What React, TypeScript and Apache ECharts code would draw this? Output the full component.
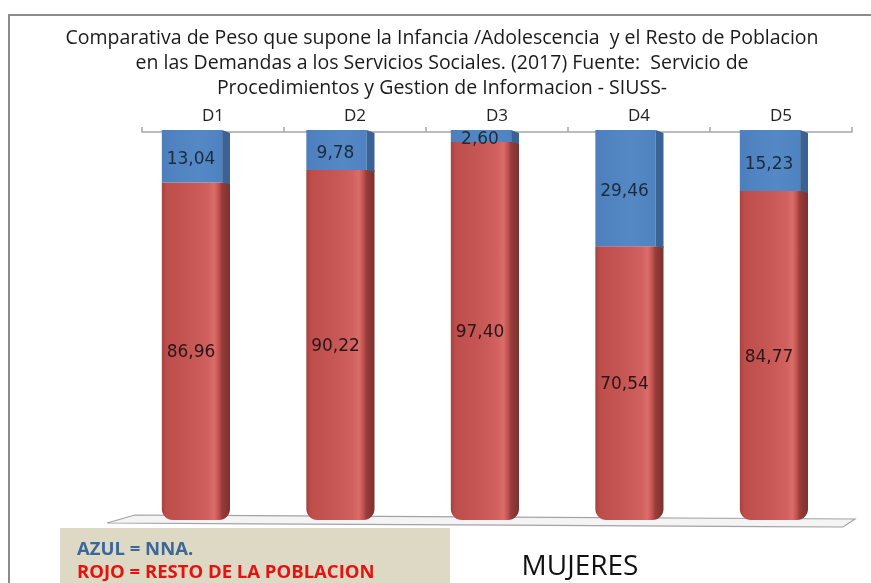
import React, { useEffect, useRef } from "react";
import * as echarts from "echarts";

const categories = ["D1", "D2", "D3", "D4", "D5"];
const nnaValues = [13.04, 9.78, 2.6, 29.46, 15.23];
const restoValues = [86.96, 90.22, 97.4, 70.54, 84.77];

const titleLines = [
  "Comparativa de Peso que supone la Infancia /Adolescencia  y el Resto de Poblacion",
  "en las Demandas a los Servicios Sociales. (2017) Fuente:  Servicio de",
  "Procedimientos y Gestion de Informacion - SIUSS-",
];
const legendLines = ["AZUL = NNA.", "ROJO = RESTO DE LA POBLACION"];
const footerText = "MUJERES";

const fmt = (v: number) => v.toFixed(2).replace(".", ",");

export default function App() {
  const ref = useRef<HTMLDivElement>(null);
  useEffect(() => {
    if (!ref.current) return;
    const chart = echarts.init(ref.current, null, { renderer: "svg" });

    const geom = (params: any, api: any) => {
      const cat = api.value(0);
      const start = api.value(1);
      const end = api.value(2);
      const p0 = api.coord([cat, start]);
      const p1 = api.coord([cat, end]);
      const band = api.size([1, 0])[0];
      const cs = params.coordSys;
      const vx = cs.x + cs.width * 1.78;
      const cx = p0[0] + (p0[0] - vx) * 0.0176;
      const w = band * 0.425;
      const d = band * 0.055;
      return { cx, x0: cx - w / 2, w, d, y0: p0[1], y1: p1[1], v: end - start };
    };

    const labelStyle = (text: string, fill: string) => ({
      text,
      fill,
      font: '17px "DejaVu Sans"',
      align: "center",
      verticalAlign: "middle",
      textAlign: "center",
      textVerticalAlign: "middle",
    });

    const renderRed = (params: any, api: any) => {
      const g = geom(params, api);
      const grad = new echarts.graphic.LinearGradient(0, 0, 1, 0, [
        { offset: 0, color: "#a6423f" },
        { offset: 0.07, color: "#bd4e4b" },
        { offset: 0.45, color: "#c75855" },
        { offset: 0.68, color: "#d0615e" },
        { offset: 0.77, color: "#da6d6a" },
        { offset: 0.84, color: "#c0504d" },
        { offset: 0.88, color: "#973d3a" },
        { offset: 1, color: "#7b302e" },
      ]);
      return {
        type: "group",
        children: [
          {
            type: "rect",
            shape: { x: g.x0, y: g.y0, width: g.w + g.d, height: g.y1 - g.y0, r: [0, 0, 11, 11] },
            style: { fill: grad },
          },
          {
            type: "text",
            x: g.cx - 1,
            y: (g.y0 + g.y1) / 2,
            style: labelStyle(fmt(g.v), "#2a1616"),
          },
        ],
      };
    };

    const renderBlue = (params: any, api: any) => {
      const g = geom(params, api);
      const top = g.y0 - 2;
      return {
        type: "group",
        children: [
          {
            type: "rect",
            shape: { x: g.x0, y: top, width: g.w, height: g.y1 - top },
            style: {
              fill: new echarts.graphic.LinearGradient(0, 0, 1, 0, [
                { offset: 0, color: "#4d7fbd" },
                { offset: 0.6, color: "#5589c6" },
                { offset: 1, color: "#4f82c0" },
              ]),
            },
          },
          {
            type: "polygon",
            shape: {
              points: [
                [g.x0 + g.w, top],
                [g.x0 + g.w + g.d, top + 3],
                [g.x0 + g.w + g.d, g.y1 + 2],
                [g.x0 + g.w, g.y1],
              ],
            },
            style: { fill: "#3a6293" },
          },
          {
            type: "text",
            x: g.cx - 1,
            y: (g.y0 + g.y1) / 2 + 1,
            style: labelStyle(fmt(g.v), "#1d2a3c"),
          },
        ],
      };
    };

    const redData = categories.map((_, i) => [i, nnaValues[i], nnaValues[i] + restoValues[i]]);
    const blueData = categories.map((_, i) => [i, 0, nnaValues[i]]);

    const textStyle = (extra: any) => ({
      align: "center",
      verticalAlign: "middle",
      textAlign: "center",
      textVerticalAlign: "middle",
      ...extra,
    });

    chart.setOption({
      animation: false,
      grid: { left: 142, right: 19, top: 132, bottom: 63 },
      xAxis: {
        type: "category",
        data: categories,
        position: "top",
        boundaryGap: true,
        axisLine: { show: true, lineStyle: { color: "#a6a6a6", width: 1.5 } },
        axisTick: { show: true, length: 5, lineStyle: { color: "#a6a6a6", width: 1.5 } },
        axisLabel: { fontSize: 17, color: "#222", margin: 9, fontFamily: "Open Sans" },
        splitLine: { show: false },
      },
      yAxis: { type: "value", min: 0, max: 100, inverse: true, show: false },
      series: [
        {
          type: "custom",
          name: "Resto",
          coordinateSystem: "cartesian2d",
          encode: { x: 0, y: [1, 2] },
          data: redData,
          renderItem: renderRed,
          z: 5,
        },
        {
          type: "custom",
          name: "NNA",
          coordinateSystem: "cartesian2d",
          encode: { x: 0, y: [1, 2] },
          data: blueData,
          renderItem: renderBlue,
          z: 6,
        },
      ],
      graphic: [
        {
          type: "polyline",
          z: 1,
          shape: { points: [[9, 583], [9, 15], [871, 15]] },
          style: { stroke: "#8c8c8c", lineWidth: 2, fill: null },
        },
        ...titleLines.map((t, i) => ({
          type: "text",
          z: 1,
          x: 442,
          y: 36 + i * 25,
          style: textStyle({ text: t, fill: "#1a1a1a", font: '19.5px "Open Sans"' }),
        })),
        {
          type: "polygon",
          z: 1,
          shape: { points: [[107, 523], [135, 515], [855, 519], [843, 527]] },
          style: { fill: "#f4f4f4", stroke: "#a3a3a3", lineWidth: 1.2 },
        },
        {
          type: "rect",
          z: 20,
          shape: { x: 60, y: 528, width: 390, height: 60 },
          style: { fill: "#ddd9c4" },
        },
        {
          type: "text",
          z: 21,
          x: 77,
          y: 547,
          style: { text: legendLines[0], fill: "#3c679a", font: 'bold 18.5px "Open Sans"', lineHeight: 20, align: "left", verticalAlign: "middle", textVerticalAlign: "middle" },
        },
        {
          type: "text",
          z: 21,
          x: 77,
          y: 570,
          style: { text: legendLines[1], fill: "#e3140f", font: 'bold 18.5px "Open Sans"', lineHeight: 20, align: "left", verticalAlign: "middle", textVerticalAlign: "middle" },
        },
        {
          type: "text",
          z: 21,
          x: 580,
          y: 564,
          style: textStyle({ text: footerText, fill: "#111", font: '28px "Open Sans"' }),
        },
      ],
    });
    return () => chart.dispose();
  }, []);
  return <div ref={ref} style={{ position: "fixed", left: 0, top: 0, width: 871, height: 583 }} />;
}
